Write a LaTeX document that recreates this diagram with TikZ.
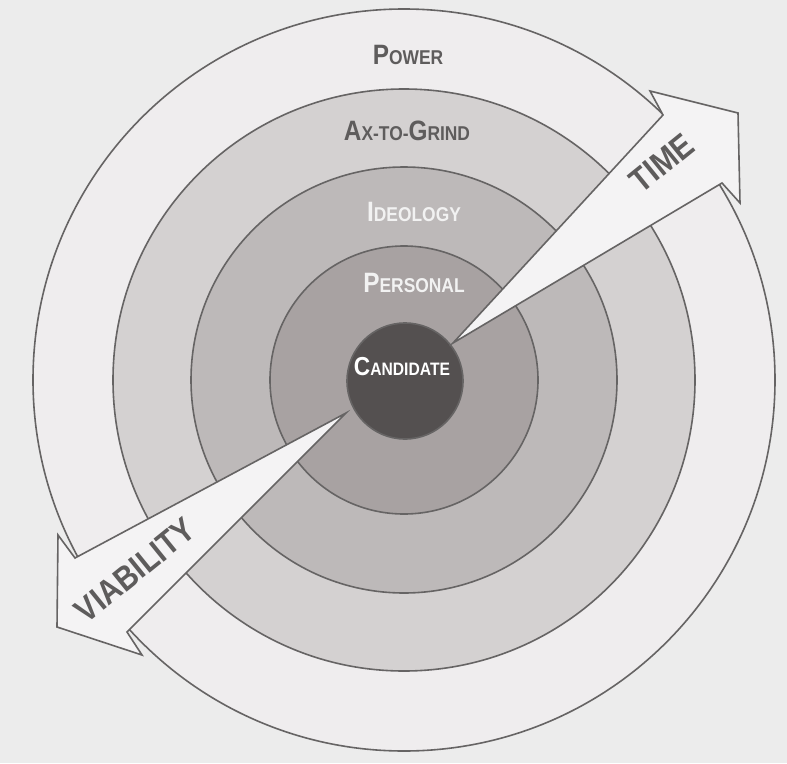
\documentclass[tikz,border=0pt]{standalone}
\usepackage{fontspec}
\setmainfont{Liberation Sans}
\newfontfamily\labfont{Liberation Sans}[FakeStretch=0.87]
\newcommand\SC[4]{{\fontsize{#1}{#1}\selectfont #3}{\fontsize{#2}{#2}\selectfont #4}}
\definecolor{bgc}{HTML}{ECECEC}
\definecolor{ringA}{HTML}{EFEDEE}
\definecolor{ringB}{HTML}{D4D1D1}
\definecolor{ringC}{HTML}{BDB9B9}
\definecolor{ringD}{HTML}{A8A2A2}
\definecolor{ringE}{HTML}{545050}
\definecolor{linec}{HTML}{666464}
\definecolor{arrowc}{HTML}{F4F3F4}
\definecolor{darktext}{HTML}{5E5C5C}
\definecolor{lighttext}{HTML}{F2F2F2}
\begin{document}
\begin{tikzpicture}[x=1pt,y=-1pt,
  ring/.style={draw=linec,line width=1.6pt},
  arrowshape/.style={draw=linec,fill=arrowc,line width=1.6pt,line join=miter},
  lab/.style={font=\labfont\bfseries,inner sep=0pt},
  darklab/.style={lab,text=darktext},
  lightlab/.style={lab,text=lighttext},
  arrowlab/.style={lab,text=darktext}]
\fill[bgc] (0,0) rectangle (787,763);
\useasboundingbox (0,0) rectangle (787,763);
\coordinate (c) at (404,380);
\fill[ringA,draw=linec,line width=1.6pt] (c) circle[radius=371];
\fill[ringB,draw=linec,line width=1.6pt] (c) circle[radius=291];
\fill[ringC,draw=linec,line width=1.6pt] (c) circle[radius=213];
\fill[ringD,draw=linec,line width=1.6pt] (c) circle[radius=134];
\fill[ringE,draw=linec,line width=1.6pt] (405,381) circle[radius=58];
% TIME arrow
\coordinate (t0) at (453,343);
\coordinate (t1) at (663,115);
\coordinate (t2) at (650,91);
\coordinate (t3) at (738,113);
\coordinate (t4) at (740,203);
\coordinate (t5) at (722,183);
\draw[arrowshape] (t0) -- (t1) -- (t2) -- (t3) -- (t4) -- (t5) -- cycle;
% VIABILITY arrow
\coordinate (v0) at (346,413);
\coordinate (v1) at (75,558);
\coordinate (v2) at (58,535);
\coordinate (v3) at (57,627);
\coordinate (v4) at (142,655);
\coordinate (v5) at (127,632);
\draw[arrowshape] (v0) -- (v1) -- (v2) -- (v3) -- (v4) -- (v5) -- cycle;
% labels
\node[darklab] (power) at (408,55) {\SC{28}{20}{P}{OWER}};
\node[darklab] (ax) at (407,131) {\SC{28}{20}{A}{X-TO-}\SC{28}{20}{G}{RIND}};
\node[lightlab] (ideo) at (414,212) {\SC{28}{20}{I}{DEOLOGY}};
\node[lightlab] (pers) at (414,283) {\SC{28}{20}{P}{ERSONAL}};
\node[lab,text=white] (cand) at (402,367) {\SC{26}{18}{C}{ANDIDATE}};
\node[arrowlab,rotate=39] (time) at (662,163) {\fontsize{34}{34}\selectfont TIME};
\node[arrowlab,rotate=39] (viab) at (135,570) {\fontsize{34}{34}\selectfont VIABILITY};
\end{tikzpicture}
\end{document}
